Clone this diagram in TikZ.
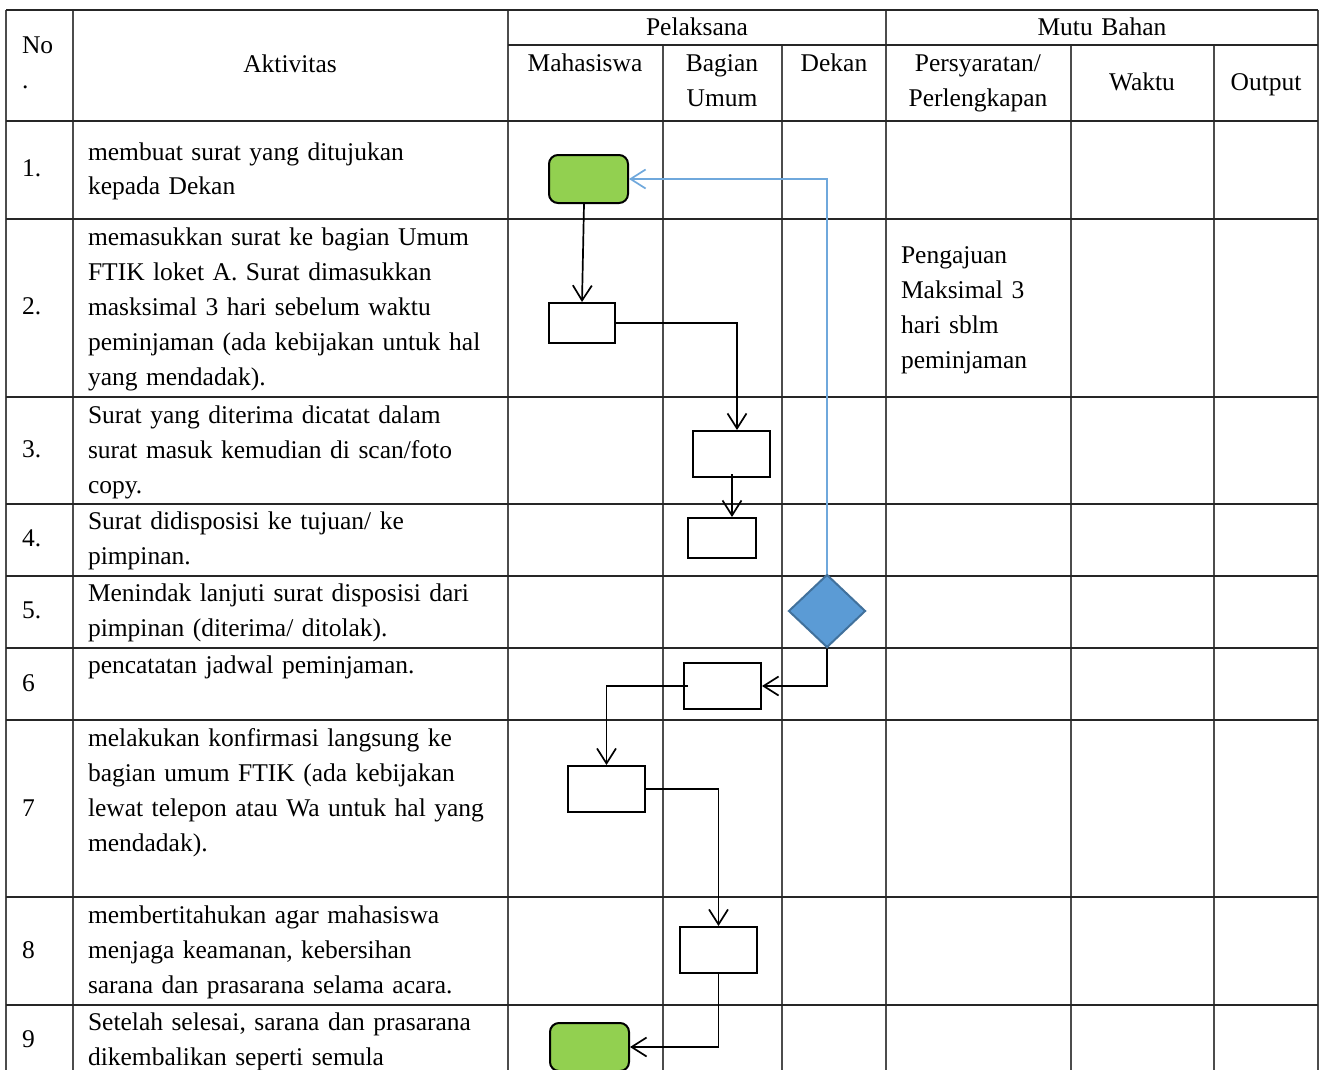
\documentclass[tikz,border=0pt]{standalone}
\usepackage{fontspec}
\setmainfont{Liberation Serif}
\usetikzlibrary{arrows.meta,shapes.geometric}
\definecolor{gfill}{HTML}{92D050}
\definecolor{dfill}{HTML}{5B9BD5}
\definecolor{ddraw}{HTML}{41719C}
\definecolor{bline}{HTML}{6FA8DC}
\begin{document}
\begin{tikzpicture}[x=1pt,y=-1pt,
  hline/.style={line width=1.4pt, draw=black!85},
  vline/.style={line width=1.4pt, draw=black!70},
  txt/.style={font=\fontsize{25.5}{35}\selectfont, inner sep=0pt, outer sep=0pt},
  celltxt/.style={txt, anchor=base west, text width=430pt, align=left},
  headc/.style={txt, anchor=base, text width=200pt, align=center},
  procbox/.style={draw=black, line width=2pt, fill=white, rectangle, inner sep=0pt},
  termbox/.style={draw=black, line width=2pt, fill=gfill, rectangle, rounded corners=9pt, inner sep=0pt, minimum width=79pt, minimum height=48pt},
  decbox/.style={draw=ddraw, line width=2pt, fill=dfill, diamond, inner sep=0pt, minimum width=77pt, minimum height=73pt},
  arr/.style={draw=black, line width=1.7pt, -{Straight Barb[length=15pt,width=19pt]}},
  barr/.style={draw=bline, line width=1.7pt, -{Straight Barb[length=15pt,width=19pt]}}
]
\useasboundingbox (0,0) rectangle (1319,1070);
\clip (0,0) rectangle (1319,1070);

% grid
\draw[vline] (6,1070) -- (6,10);
\draw[vline] (1318,10) -- (1318,1070);
\foreach \x in {73,508,886} \draw[vline] (\x,10) -- (\x,1070);
\foreach \x in {663,782,1071,1214} \draw[vline] (\x,45) -- (\x,1070);
\draw[hline] (6,10) -- (1318,10);
\draw[hline] (508,45) -- (1318,45);
\foreach \y in {121,219,397,504,576,648,720,897,1005} \draw[hline] (6,\y) -- (1318,\y);

% headers
\node[txt, anchor=base west, text width=60pt, align=left] (hno) at (22,54) {No\\.};
\node[headc] (hakt) at (290,73) {Aktivitas};
\node[headc] (hpel) at (697,36) {Pelaksana};
\node[headc] (hmutu) at (1102,36) {Mutu Bahan};
\node[headc] (hmhs) at (585,72) {Mahasiswa};
\node[headc] (hbag) at (722,72) {Bagian\\Umum};
\node[headc] (hdek) at (834,72) {Dekan};
\node[headc] (hpers) at (978,72) {Persyaratan/\\Perlengkapan};
\node[headc] (hwak) at (1142,91) {Waktu};
\node[headc] (hout) at (1266,91) {Output};

% row numbers
\node[txt, anchor=base west] (n1) at (22,176) {1.};
\node[txt, anchor=base west] (n2) at (22,314) {2.};
\node[txt, anchor=base west] (n3) at (22,457) {3.};
\node[txt, anchor=base west] (n4) at (22,546) {4.};
\node[txt, anchor=base west] (n5) at (22,618) {5.};
\node[txt, anchor=base west] (n6) at (22,691) {6};
\node[txt, anchor=base west] (n7) at (22,816) {7};
\node[txt, anchor=base west] (n8) at (22,958) {8};
\node[txt, anchor=base west] (n9) at (22,1047) {9};

% activities
\node[celltxt] (a1) at (88,160) {membuat surat yang ditujukan\\kepada Dekan};
\node[celltxt] (a2) at (88,245) {memasukkan surat ke bagian Umum\\FTIK loket A. Surat dimasukkan\\masksimal 3 hari sebelum waktu\\peminjaman (ada kebijakan untuk hal\\yang mendadak).};
\node[celltxt] (a3) at (88,423) {Surat yang diterima dicatat dalam\\surat masuk kemudian di scan/foto\\copy.};
\node[celltxt] (a4) at (88,529) {Surat didisposisi ke tujuan/ ke\\pimpinan.};
\node[celltxt] (a5) at (88,601) {Menindak lanjuti surat disposisi dari\\pimpinan (diterima/ ditolak).};
\node[celltxt] (a6) at (88,673) {pencatatan jadwal peminjaman.};
\node[celltxt] (a7) at (88,746) {melakukan konfirmasi langsung ke\\bagian umum FTIK (ada kebijakan\\lewat telepon atau Wa untuk hal yang\\mendadak).};
\node[celltxt] (a8) at (88,923) {membertitahukan agar mahasiswa\\menjaga keamanan, kebersihan\\sarana dan prasarana selama acara.};
\node[celltxt] (a9) at (88,1030) {Setelah selesai, sarana dan prasarana\\dikembalikan seperti semula};

% persyaratan
\node[celltxt, text width=160pt] (p2) at (901,263) {Pengajuan\\Maksimal 3\\hari sblm\\peminjaman};

% flow shapes
\node[termbox] (g1) at (588.5,179) {};
\node[procbox, minimum width=66pt, minimum height=40pt] (b2) at (582,323) {};
\node[procbox, minimum width=77pt, minimum height=46pt] (b3) at (731.5,454) {};
\node[procbox, minimum width=68pt, minimum height=40pt] (b4) at (722,538) {};
\node[decbox] (d5) at (827,611) {};
\node[procbox, minimum width=77pt, minimum height=46pt] (b6) at (722.5,686) {};
\node[procbox, minimum width=77pt, minimum height=46pt] (b7) at (606.5,789) {};
\node[procbox, minimum width=77pt, minimum height=46pt] (b8) at (718.5,950) {};
\node[termbox] (g9) at (589.5,1047) {};

% connectors
\draw[arr] ([xshift=-4.5pt]g1.south) -- (b2.north);
\draw[arr] (b2.east) -| ([xshift=5.5pt]b3.north);
\draw[arr] ([xshift=0.5pt,yshift=4pt]b3.south) -- ([xshift=10pt]b4.north);
\draw[barr] (d5.north) |- (g1.east);
\draw[arr] (d5.south) |- (b6.east);
\draw[arr] ([xshift=5pt]b6.west) -| (b7.north);
\draw[arr] (b7.east) -| (b8.north);
\draw[arr] (b8.south) |- (g9.east);
\end{tikzpicture}
\end{document}
